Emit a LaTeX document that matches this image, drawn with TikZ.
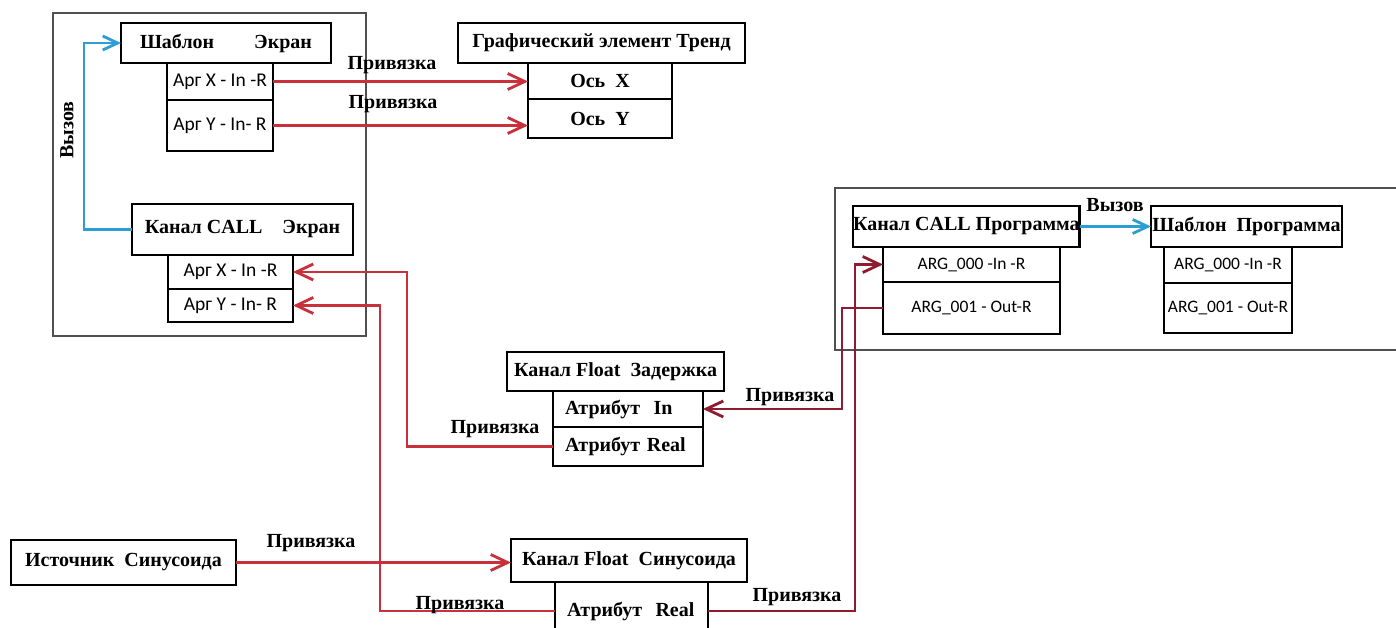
\documentclass[tikz,border=0pt]{standalone}
\usepackage{fontspec}
\setmainfont{Liberation Serif}
\newfontfamily\cali{Carlito}
\usetikzlibrary{arrows.meta}
\definecolor{lnred}{HTML}{C8303C}
\definecolor{lnmar}{HTML}{8E1C30}
\definecolor{lnblue}{HTML}{2C9ED4}
\definecolor{frgray}{HTML}{505050}
\tikzset{
  wh/.style 2 args={minimum width=#1pt, minimum height=#2pt},
  bx/.style={draw, line width=2.8pt, inner sep=0pt, outer sep=0pt, anchor=north west},
  ttl/.style={bx, font=\bfseries\fontsize{20}{23}\selectfont},
  sub/.style={bx, font=\cali\fontsize{19.5}{22}\selectfont},
  subp/.style={bx, font=\cali\fontsize{17.5}{21}\selectfont},
  subb/.style={bx, font=\bfseries\fontsize{20}{23}\selectfont},
  lft/.style={inner xsep=12pt, text width=#1pt, align=left},
  frame/.style={draw=frgray, line width=1.1pt, inner sep=0pt, outer sep=0pt, anchor=north west},
  lbl/.style={font=\bfseries\fontsize{20}{23}\selectfont, inner sep=0pt},
  redln/.style={draw=lnred, line width=2.8pt},
  marln/.style={draw=lnmar, line width=2.8pt},
  redar/.style={redln, -{Straight Barb[length=17pt,width=16pt]}},
  marar/.style={marln, -{Straight Barb[length=17pt,width=16pt]}},
  bluear/.style={draw=lnblue, line width=2.8pt, -{Straight Barb[length=15pt,width=14pt]}},
}
\begin{document}
\begin{tikzpicture}[x=1pt,y=-1pt]
\useasboundingbox (0,0) rectangle (1396,627);
\clip (0,0) rectangle (1396,627);
\fill[white] (0,0) rectangle (1396,627);
% frames
\node[frame, wh={313}{323}] (fr1) at (53,13) {};
\node[frame, wh={570}{162}] (fr2) at (835,188) {};
% left group
\node[ttl, wh={210}{40}] (shabE) at (121,23) {Шаблон\hspace{2em}Экран};
\node[sub, wh={106}{37}] (sxE) at (167,63) {Арг X - In -R};
\node[sub, wh={106}{51}] (syE) at (167,100) {Арг Y - In- R};
\node[ttl, wh={221}{51}] (callE) at (132,204) {Канал CALL\hspace{1em}Экран};
\node[sub, wh={125}{34}] (cX) at (168,255) {Арг X - In -R};
\node[sub, wh={125}{33}] (cY) at (168,289) {Арг Y - In- R};
% trend
\node[ttl, wh={287}{40}] (trend) at (458,23) {Графический элемент Тренд};
\node[subb, wh={144}{36}] (oX) at (528,63) {Ось\ \ X\hspace{1em}};
\node[subb, wh={144}{39}] (oY) at (528,99) {Ось\ \ Y\hspace{1em}};
% program group
\node[ttl, wh={226}{41}] (callP) at (853,206) {Канал CALL\ Программа};
\node[subp, wh={177}{35}] (a0) at (883,247) {ARG\_000 -In -R};
\node[subp, wh={177}{52}] (a1) at (883,282) {ARG\_001 - Out-R};
\node[ttl, wh={191}{41}] (shabP) at (1151,206) {Шаблон\ \ Программа};
\node[subp, wh={128}{36}] (b0) at (1164,247) {ARG\_000 -In -R};
\node[subp, wh={128}{50}] (b1) at (1164,283) {ARG\_001 - Out-R};
% delay
\node[ttl, wh={217}{39}] (zad) at (507,352) {Канал Float\ \ Задержка};
\node[subb, lft=126, wh={150}{36}] (zIn) at (553,391) {Атрибут\ \ In};
\node[subb, lft=126, wh={150}{39}] (zR) at (553,427) {Атрибут Real};
% sine
\node[ttl, wh={225}{45}] (src) at (11,540) {Источник\ \ Синусоида};
\node[ttl, wh={236}{43}] (sin) at (511,539) {Канал Float\ \ Синусоида};
\node[subb, lft=129, wh={153}{58}] (sR) at (555,582) {Атрибут\ \ Real};
% connectors
\draw[bluear] (callE.west) -- ++(-48,0) |- (shabE.west);
\draw[bluear] (callP.east) -- (shabP.west);
\draw[redar] (sxE.east) -- (sxE.east -| oX.west);
\draw[redar] (syE.east) -- (syE.east -| oY.west);
\draw[redar] (zR.west) -- ++(-146,0) |- (cX.east);
\draw[redar] (sR.west) -- ++(-175,0) |- (cY.east);
\draw[redar] (src.east) -- (src.east -| sin.west);
\draw[marar] (sR.east) -- ++(147,0) |- (a0.west);
\draw[marar] (a1.west) -- ++(-41,0) |- (zIn.east);
% labels
\node[lbl, rotate=90] (lv1) at (67,130) {Вызов};
\node[lbl] (lv2) at (1115,205) {Вызов};
\node[lbl] (l1) at (392,65) {Привязка};
\node[lbl] (l2) at (393,104) {Привязка};
\node[lbl] (l3) at (495,429) {Привязка};
\node[lbl] (l4) at (460,605) {Привязка};
\node[lbl] (l5) at (311,543) {Привязка};
\node[lbl] (l6) at (797,597) {Привязка};
\node[lbl] (l7) at (790,397) {Привязка};
\end{tikzpicture}
\end{document}
